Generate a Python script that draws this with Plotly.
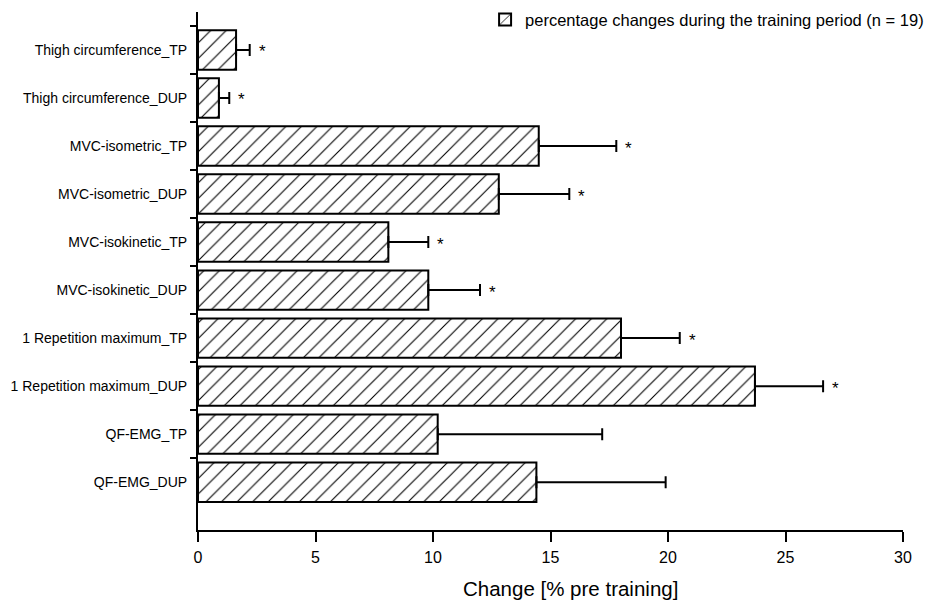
import plotly.graph_objects as go

categories = [
    "Thigh circumference_TP",
    "Thigh circumference_DUP",
    "MVC-isometric_TP",
    "MVC-isometric_DUP",
    "MVC-isokinetic_TP",
    "MVC-isokinetic_DUP",
    "1 Repetition maximum_TP",
    "1 Repetition maximum_DUP",
    "QF-EMG_TP",
    "QF-EMG_DUP",
]
values = [1.62, 0.89, 14.5, 12.8, 8.1, 9.8, 18.0, 23.7, 10.2, 14.4]
errors = [0.58, 0.44, 3.3, 3.0, 1.7, 2.2, 2.5, 2.9, 7.0, 5.5]
significant = [True, True, True, True, True, True, True, True, False, False]
x_ticks = [0, 5, 10, 15, 20, 25, 30]
x_title = "Change [% pre training]"
legend_label = "percentage changes during the training period (n = 19)"

FONT = "Liberation Sans, Arial, sans-serif"

fig = go.Figure()
fig.add_trace(go.Bar(
    y=categories,
    x=values,
    orientation="h",
    width=0.82,
    name=legend_label,
    marker=dict(
        color="white",
        line=dict(color="black", width=2),
        pattern=dict(shape="/", size=11, solidity=0.1, fgcolor="black",
                     bgcolor="white", fgopacity=1),
    ),
    error_x=dict(
        type="data",
        symmetric=False,
        array=errors,
        arrayminus=[0] * len(errors),
        color="black",
        thickness=2,
        width=6,
    ),
    showlegend=True,
))

for cat, v, e, s in zip(categories, values, errors, significant):
    if s:
        fig.add_annotation(
            x=v + e, y=cat, text="*", showarrow=False,
            xanchor="left", xshift=7, yshift=-2,
            font=dict(family=FONT, size=17, color="black"),
        )

# axis title, placed slightly right of centre as in the original
fig.add_annotation(
    xref="paper", yref="paper", x=0.529, y=-0.112,
    xanchor="center", yanchor="middle", showarrow=False,
    text=x_title, font=dict(family=FONT, size=20.5, color="black"),
)

fig.update_layout(
    width=925, height=595,
    margin=dict(l=190, r=30, t=4, b=73, autoexpand=False),
    plot_bgcolor="white", paper_bgcolor="white",
    font=dict(family=FONT, color="black", size=14),
    legend=dict(
        x=1.037, y=0.985, xanchor="right", yanchor="middle",
        bgcolor="rgba(0,0,0,0)", font=dict(size=16.5, family=FONT),
        itemwidth=30,
    ),
)
fig.update_xaxes(
    range=[0, 30], tickvals=x_ticks, ticktext=[str(t) for t in x_ticks],
    showline=True, linecolor="black", linewidth=2,
    ticks="outside", ticklen=10, tickwidth=2, tickcolor="black",
    showgrid=False, zeroline=False, ticklabelstandoff=2,
    tickfont=dict(size=16, family=FONT),
)
fig.update_yaxes(
    type="category", categoryorder="array", categoryarray=categories,
    range=[9.995, -0.79],
    showline=True, linecolor="black", linewidth=2,
    ticks="outside", ticklen=6, tickwidth=2, tickcolor="black",
    tickson="boundaries", ticklabelstandoff=6,
    showgrid=False, zeroline=False,
    tickfont=dict(size=14, family=FONT),
)

fig.write_html("out.html")
